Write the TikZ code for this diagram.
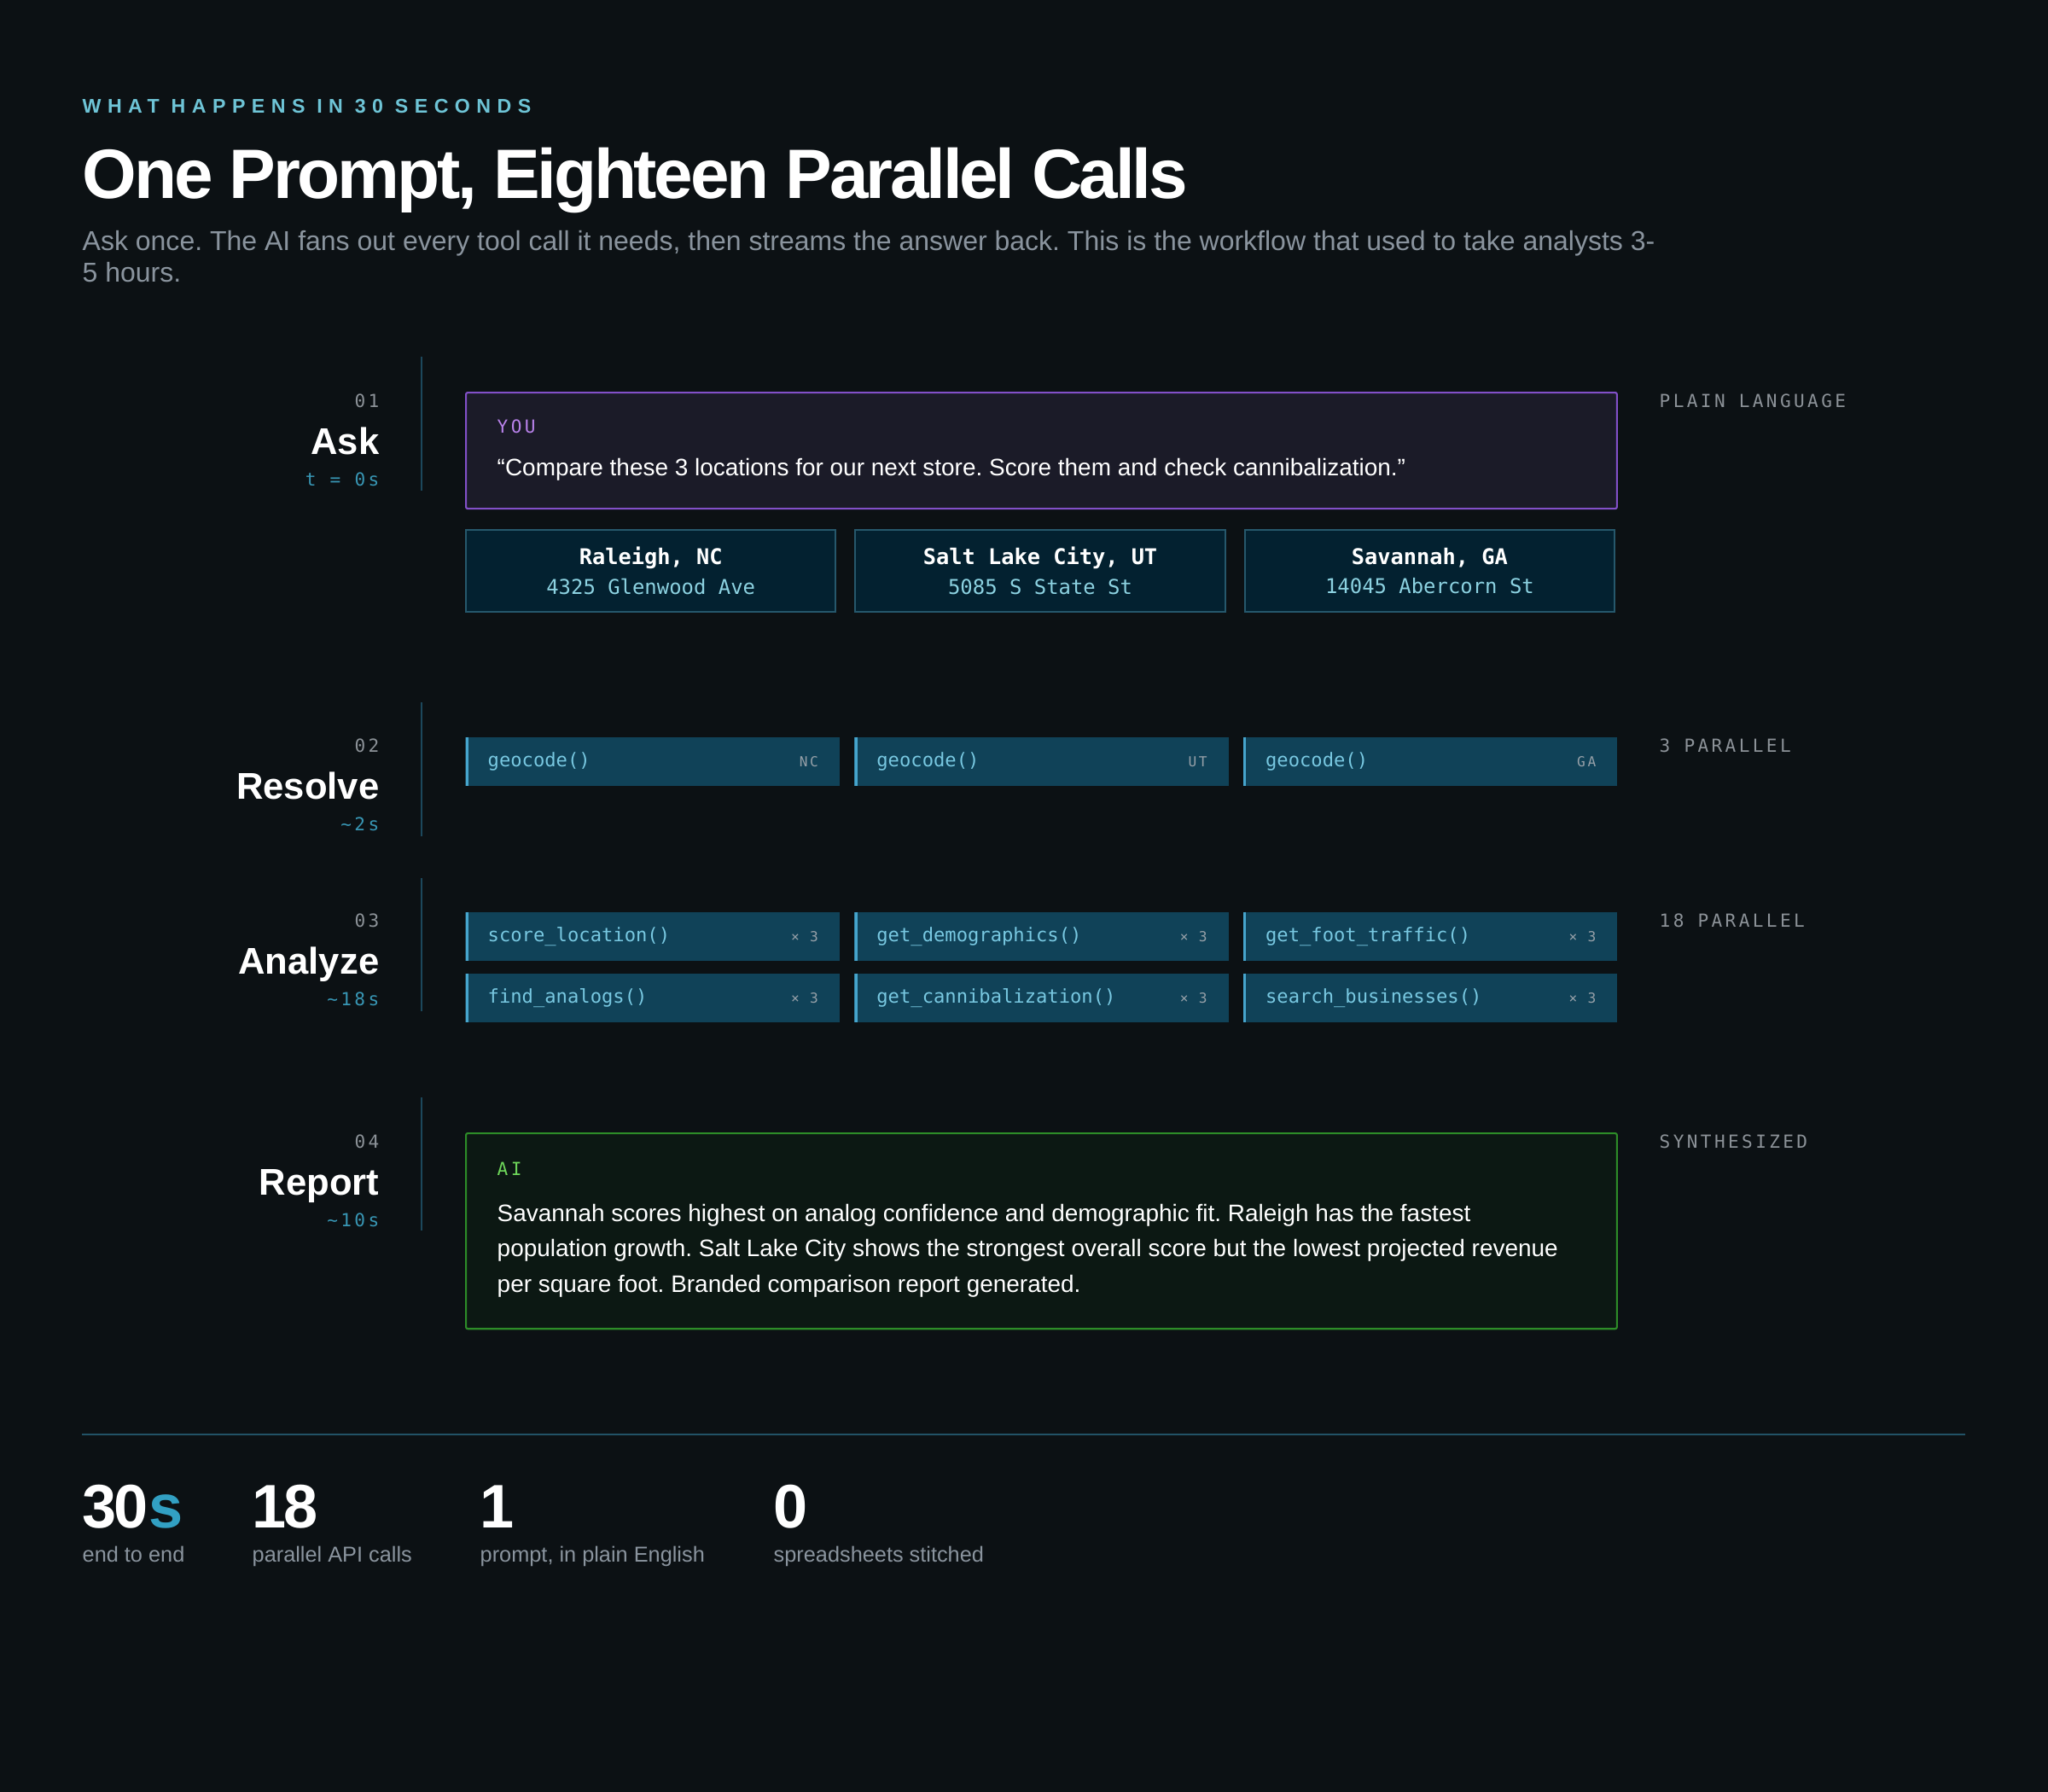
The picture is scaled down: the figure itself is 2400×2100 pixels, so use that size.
\documentclass[tikz,border=0pt]{standalone}
\usepackage{fontspec}
\setmainfont{Liberation Sans}
\newfontfamily\monofont{DejaVu Sans Mono}
\newfontfamily\trackedmono[LetterSpace=16]{DejaVu Sans Mono}
\newfontfamily\trackedsans[LetterSpace=32]{Liberation Sans}
\newfontfamily\tightsans[LetterSpace=-4]{Liberation Sans}
\usepackage{tikz}
\usetikzlibrary{positioning}
\usepackage{xcolor}
\frenchspacing
\definecolor{dfbg}{RGB}{12,17,20}
\definecolor{dfkicker}{RGB}{110,196,214}
\definecolor{dfgray}{RGB}{138,148,158}
\definecolor{dfline}{RGB}{28,72,92}
\definecolor{dfnum}{RGB}{140,146,152}
\definecolor{dftime}{RGB}{56,150,180}
\definecolor{dfyoufill}{RGB}{27,27,40}
\definecolor{dfpurple}{RGB}{130,80,200}
\definecolor{dfyoutext}{RGB}{185,130,235}
\definecolor{dflocfill}{RGB}{3,33,48}
\definecolor{dflocline}{RGB}{38,88,108}
\definecolor{dfloctext}{RGB}{140,210,225}
\definecolor{dftoolfill}{RGB}{16,66,88}
\definecolor{dfbar}{RGB}{70,165,205}
\definecolor{dftooltext}{RGB}{120,200,225}
\definecolor{dftag}{RGB}{150,160,168}
\definecolor{dfaifill}{RGB}{12,24,19}
\definecolor{dfgreen}{RGB}{45,140,40}
\definecolor{dfaitext}{RGB}{110,215,90}
\definecolor{dfrule}{RGB}{34,82,102}
\definecolor{dfaccent}{RGB}{50,160,195}
\tikzstyle{txt} = [inner sep=0pt, anchor=base west]
\tikzstyle{kicker} = [txt, text=dfkicker, font=\trackedsans\bfseries\fontsize{6.6}{7}\selectfont]
\tikzstyle{headline} = [txt, text=white, font=\tightsans\bfseries\fontsize{23.3}{26}\selectfont]
\tikzstyle{lede} = [txt, text=dfgray, align=left, font=\fontsize{9.1}{10.5}\selectfont]
\tikzstyle{stepnum} = [inner sep=0pt, anchor=base east, text=dfnum, font=\trackedmono\fontsize{6}{7}\selectfont]
\tikzstyle{steptitle} = [inner sep=0pt, anchor=base east, text=white, font=\bfseries\fontsize{12.4}{14}\selectfont]
\tikzstyle{steptime} = [stepnum, text=dftime]
\tikzstyle{stepline} = [draw=dfline, line width=0.6pt]
\tikzstyle{sidelabel} = [txt, text=dfnum, font=\trackedmono\fontsize{6}{7}\selectfont]
\tikzstyle{youbox} = [rectangle, anchor=north west, rounded corners=0.6pt, minimum width=13.48cm, minimum height=1.36cm, fill=dfyoufill, draw=dfpurple, line width=0.6pt]
\tikzstyle{speaker} = [txt, font=\trackedmono\fontsize{6}{7}\selectfont]
\tikzstyle{body} = [txt, text=white, align=left, font=\fontsize{7.95}{11.7}\selectfont]
\tikzstyle{locbox} = [rectangle, anchor=north west, minimum width=4.33cm, minimum height=0.96cm, fill=dflocfill, draw=dflocline, line width=0.6pt, align=center, text=dfloctext, font=\monofont\fontsize{6.8}{9.8}\selectfont]
\tikzstyle{toolbox} = [rectangle, anchor=north west, minimum width=4.38cm, minimum height=0.57cm, fill=dftoolfill, path picture={\draw[dfbar, line width=1.8pt] (path picture bounding box.north west) -- (path picture bounding box.south west);}]
\tikzstyle{fn} = [inner sep=0pt, text=dftooltext, font=\monofont\fontsize{6.3}{7}\selectfont]
\tikzstyle{tag} = [inner sep=0pt, text=dftag, font=\trackedmono\fontsize{4.6}{5}\selectfont]
\tikzstyle{aibox} = [rectangle, anchor=north west, rounded corners=0.6pt, minimum width=13.48cm, minimum height=2.29cm, fill=dfaifill, draw=dfgreen, line width=0.6pt]
\tikzstyle{bignum} = [txt, text=white, font=\tightsans\bfseries\fontsize{20.5}{22}\selectfont]
\tikzstyle{statlabel} = [txt, text=dfgray, font=\fontsize{7.2}{8}\selectfont]
\tikzstyle{rule} = [draw=dfrule, line width=0.6pt]

\begin{document}
\begin{tikzpicture}[x=0.01cm, y=-0.01cm]
\useasboundingbox (0,0) rectangle (2400,2100);
\fill[dfbg] (0,0) rectangle (2400,2100);

% Header
\node (kicker) [kicker] at (96,133) {WHAT HAPPENS IN 30 SECONDS};
\node (title) [headline] at (96,232) {One Prompt, Eighteen Parallel Calls};
\node (lede) [lede] at (96,330) {Ask once. The AI fans out every tool call it needs, then streams the answer back. This is the workflow that used to take analysts 3-\\5 hours.};

% 01 Ask
\draw[stepline] (494,418) -- (494,575);
\node (num1) [stepnum] at (445,477) {01};
\node (ask) [steptitle] at (445,532) {Ask};
\node (time1) [steptime] at (445,569) {t = 0s};
\node (side1) [sidelabel] at (1944,477) {PLAIN LANGUAGE};

\node (you) [youbox] at (545,459) {};
\node (youlabel) [speaker, text=dfyoutext] at (582,507) {YOU};
\node (prompt) [body] at (582,557) {“Compare these 3 locations for our next store. Score them and check cannibalization.”};

\node (raleigh) [locbox] at (545,620) {{\bfseries\fontsize{7.2}{9.8}\selectfont\color{white}Raleigh, NC}\\4325 Glenwood Ave};
\node (slc) [locbox, right=0.21cm of raleigh] {{\bfseries\fontsize{7.2}{9.8}\selectfont\color{white}Salt Lake City, UT}\\5085 S State St};
\node (savannah) [locbox, right=0.21cm of slc] {{\bfseries\fontsize{7.2}{9.8}\selectfont\color{white}Savannah, GA}\\14045 Abercorn St};

% 02 Resolve
\draw[stepline] (494,823) -- (494,980);
\node (num2) [stepnum] at (445,881) {02};
\node (resolve) [steptitle] at (445,936) {Resolve};
\node (time2) [steptime] at (445,973) {\textasciitilde2s};
\node (side2) [sidelabel] at (1944,881) {3 PARALLEL};

\node (geoNC) [toolbox] at (545,863) {};
\node (geoUT) [toolbox, right=0.16cm of geoNC] {};
\node (geoGA) [toolbox, right=0.16cm of geoUT] {};
\node (geoNCfn) [fn, right=0.26cm of geoNC.west] {geocode()};
\node (geoNCtag) [tag, left=0.25cm of geoNC.east] {NC};
\node (geoUTfn) [fn, right=0.26cm of geoUT.west] {geocode()};
\node (geoUTtag) [tag, left=0.25cm of geoUT.east] {UT};
\node (geoGAfn) [fn, right=0.26cm of geoGA.west] {geocode()};
\node (geoGAtag) [tag, left=0.25cm of geoGA.east] {GA};

% 03 Analyze
\draw[stepline] (494,1029) -- (494,1185);
\node (num3) [stepnum] at (445,1086) {03};
\node (analyze) [steptitle] at (445,1141) {Analyze};
\node (time3) [steptime] at (445,1178) {\textasciitilde18s};
\node (side3) [sidelabel] at (1944,1086) {18 PARALLEL};

\node (score) [toolbox] at (545,1068) {};
\node (demo) [toolbox, right=0.16cm of score] {};
\node (foot) [toolbox, right=0.16cm of demo] {};
\node (analogs) [toolbox] at (545,1140) {};
\node (cannib) [toolbox, right=0.16cm of analogs] {};
\node (search) [toolbox, right=0.16cm of cannib] {};
\node (scorefn) [fn, right=0.26cm of score.west] {score\_location()};
\node (scoretag) [tag, left=0.25cm of score.east] {× 3};
\node (demofn) [fn, right=0.26cm of demo.west] {get\_demographics()};
\node (demotag) [tag, left=0.25cm of demo.east] {× 3};
\node (footfn) [fn, right=0.26cm of foot.west] {get\_foot\_traffic()};
\node (foottag) [tag, left=0.25cm of foot.east] {× 3};
\node (analogsfn) [fn, right=0.26cm of analogs.west] {find\_analogs()};
\node (analogstag) [tag, left=0.25cm of analogs.east] {× 3};
\node (cannibfn) [fn, right=0.26cm of cannib.west] {get\_cannibalization()};
\node (cannibtag) [tag, left=0.25cm of cannib.east] {× 3};
\node (searchfn) [fn, right=0.26cm of search.west] {search\_businesses()};
\node (searchtag) [tag, left=0.25cm of search.east] {× 3};

% 04 Report
\draw[stepline] (494,1286) -- (494,1442);
\node (num4) [stepnum] at (445,1345) {04};
\node (report) [steptitle] at (445,1400) {Report};
\node (time4) [steptime] at (445,1437) {\textasciitilde10s};
\node (side4) [sidelabel] at (1944,1345) {SYNTHESIZED};

\node (ai) [aibox] at (545,1327) {};
\node (ailabel) [speaker, text=dfaitext] at (582,1377) {AI};
\node (answer) [body] at (582,1514) {Savannah scores highest on analog confidence and demographic fit. Raleigh has the fastest\\population growth. Salt Lake City shows the strongest overall score but the lowest projected revenue\\per square foot. Branded comparison report generated.};

% Totals
\draw[rule] (96,1681) -- (2303,1681);
\node (stat1) [bignum] at (96,1790) {30{\color{dfaccent}s}};
\node (stat1lbl) [statlabel] at (96,1830) {end to end};
\node (stat2) [bignum] at (295,1790) {18};
\node (stat2lbl) [statlabel] at (295,1830) {parallel API calls};
\node (stat3) [bignum] at (562,1790) {1};
\node (stat3lbl) [statlabel] at (562,1830) {prompt, in plain English};
\node (stat4) [bignum] at (906,1790) {0};
\node (stat4lbl) [statlabel] at (906,1830) {spreadsheets stitched};
\end{tikzpicture}
\end{document}
